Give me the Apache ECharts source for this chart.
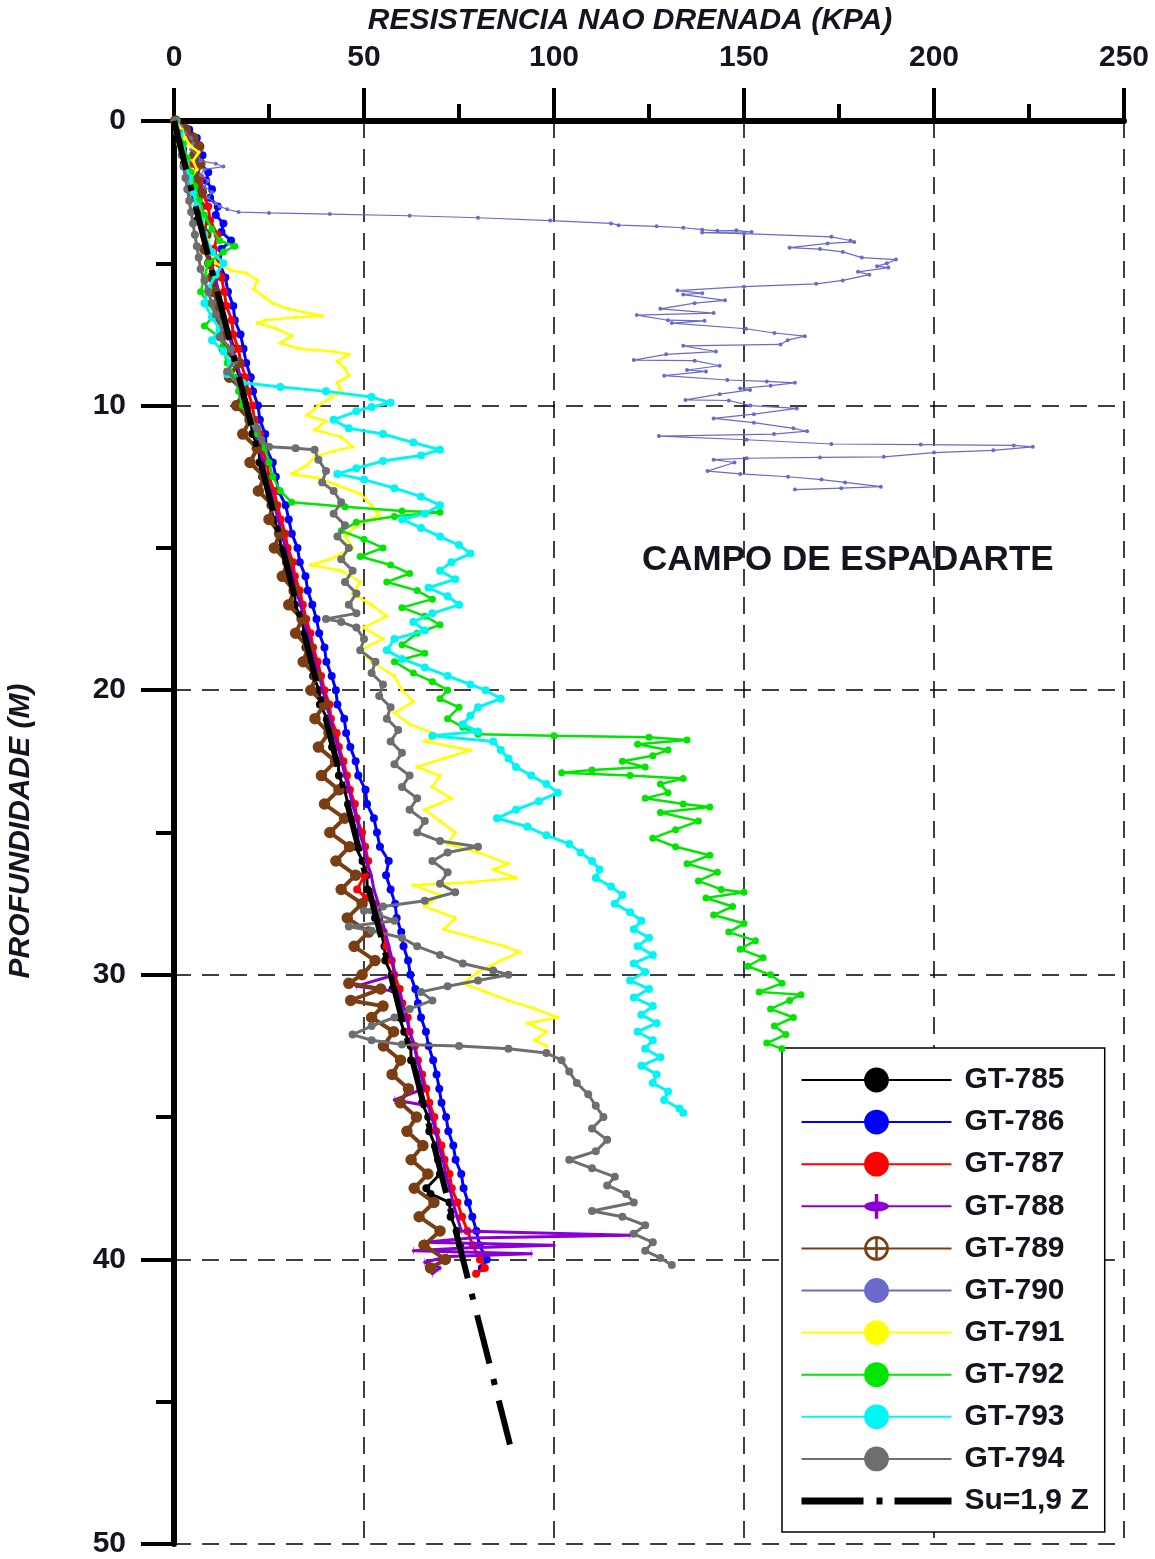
<!DOCTYPE html>
<html>
<head>
<meta charset="utf-8">
<script src="https://cdn.jsdelivr.net/npm/echarts@6/dist/echarts.min.js"></script>
<style>
html,body{margin:0;padding:0;background:#fff;}
#chart{width:1155px;height:1559px;}
</style>
</head>
<body>
<div id="chart"></div>
<script>
// ---------- DATA: [Su (kPa), depth (m)] ----------
const seriesNames = ['GT-785','GT-786','GT-787','GT-788','GT-789','GT-790','GT-791','GT-792','GT-793','GT-794'];
const lineName = 'Su=1,9 Z';
const xTicks = [0, 50, 100, 150, 200, 250];
const yTicks = [0, 10, 20, 30, 40, 50];

const gt785 = [[0.3,0],[1.2,0.5],[2.4,1],[2.6,1.5],[4.1,2],[4.4,2.5],[6.2,3],[6.0,3.5],[7.9,4],[8.8,4.5],[9.1,5],[10.8,5.5],[11.0,6],[12.9,6.5],[13.0,7],[14.6,7.5],[15.8,8],[15.6,8.5],[17.4,9],[18.4,9.5],[18.6,10],[20.3,10.5],[20.6,11],[22.4,11.5],[22.5,12],[23.2,12.5],[25.1,13],[25.4,13.5],[26.2,14],[27.9,14.5],[28.0,15],[29.8,15.5],[30.1,16],[31.9,16.5],[31.8,17],[33.5,17.5],[34.4,18],[34.6,18.5],[36.3,19],[36.6,19.5],[38.2,20],[38.4,20.5],[40.3,21],[40.5,21.5],[41.6,22],[43.2,22.5],[43.4,23],[44.9,23.5],[45.8,24],[46.2,24.5],[47.9,25],[47.8,25.5],[49.6,26],[50.7,26.5],[50.9,27],[52.6,27.5],[52.9,28],[54.5,28.5],[55.4,29],[55.6,29.5],[57.3,30],[57.5,30.5],[59.4,31],[59.3,31.5],[60.6,32],[62.3,32.5],[62.4,33],[64.1,33.5],[64.9,34],[65.3,34.5],[66.9,35],[67.2,35.5],[68.7,36],[69.5,36.5],[70.0,37],[66.4,37.5],[67.5,37.7],[72.5,38],[72.8,38.5],[74.4,39],[75.3,39.5]];

const gt786 = [[0.5,0],[4,0.3],[6,0.6],[5.5,0.9],[7.5,1.2],[7,1.5],[9,1.8],[8.5,2.1],[10,2.4],[9.5,2.7],[11.5,3.0],[11,3.3],[13,3.6],[12.5,3.9],[15,4.2],[12.5,4.5],[12,5],[13.5,5.5],[14.2,6],[15.6,6.5],[16,7],[17.5,7.5],[18.3,8],[19,8.5],[20.2,9],[20.8,9.5],[22.1,10],[22.6,10.5],[24,11],[24.3,11.5],[26,12],[26.8,12.5],[27.5,13],[29.4,13.5],[30.2,14],[31,14.5],[32.5,15],[33.1,15.5],[34.6,16],[35.2,16.5],[36.4,17],[37.5,17.5],[38.2,18],[39.6,18.5],[40.1,19],[41.5,19.5],[42.6,20],[43,20.5],[44.8,21],[45.3,21.5],[46.4,22],[47.8,22.5],[48.5,23],[50.4,23.5],[50.8,24],[52.6,24.5],[53.4,25],[54.2,25.5],[56.5,26],[55.8,26.5],[57,27],[58.2,27.5],[58.6,28],[59.8,28.5],[60.4,29],[61.6,29.5],[62.2,30],[63.5,30.5],[64.2,31],[65,31.5],[66.3,32],[67,32.5],[68.2,33],[69.1,33.5],[69.8,34],[70.4,34.5],[71.6,35],[72.2,35.5],[73.5,36],[74.1,36.5],[75.6,37],[76.2,37.5],[77.4,38],[78.5,38.5],[79.6,39],[80.4,39.5],[82.3,40],[81,40.3]];

const gt787 = [[0.5,0],[3.5,0.5],[5.5,1],[5,1.5],[7,2],[7.5,2.5],[9,3],[9.5,3.5],[11.5,4],[10.5,4.5],[11.8,5],[12.5,5.5],[13.2,6],[13.8,6.5],[15.2,7],[15.6,7.5],[16.9,8],[17.6,8.5],[18.8,9],[19.5,9.5],[20.6,10],[21.2,10.5],[22.6,11],[23.1,11.5],[24.5,12],[25,12.5],[26.3,13],[27.2,13.5],[28.1,14],[29.3,14.5],[29.9,15],[31.3,15.5],[31.8,16],[33.1,16.5],[33.9,17],[34.8,17.5],[35.9,18],[36.6,18.5],[37.8,19],[38.7,19.5],[39.6,20],[40.9,20.5],[41.3,21],[42.8,21.5],[43.4,22],[44.6,22.5],[45.5,23],[46.3,23.5],[47.6,24],[48.1,24.5],[49.5,25],[50.3,25.5],[51.1,26],[50.2,26.5],[48.2,27],[50.5,27.3],[52.6,27.5],[54,28],[55.2,28.5],[55.9,29],[57.3,29.5],[58,30],[59.4,30.5],[60.1,31],[61.5,31.5],[62,32],[63.4,32.5],[64.2,33],[65.3,33.5],[66.4,34],[67.2,34.5],[68.5,35],[69,35.5],[70.4,36],[71.2,36.5],[72.5,37],[73.1,37.5],[74.6,38],[75.8,38.5],[77.2,39],[78.6,39.5],[80.5,40],[81.8,40.3],[79.5,40.5]];

const gt788 = [[0.4,0],[2.5,1],[4.5,2],[6.2,3],[8,4],[9.8,5],[11.8,6],[13.6,7],[15.4,8],[16.5,8.5],[17.5,9],[18.2,9.5],[19.6,10],[20.3,10.5],[21.5,11],[22.4,11.5],[23.6,12],[24.2,12.5],[25.5,13],[26.4,13.5],[27.4,14],[28.4,14.5],[29.3,15],[30.4,15.5],[31.3,16],[32.1,16.5],[33.4,17],[34,17.5],[35.3,18],[36.2,18.5],[37.1,19],[38.2,19.5],[39.2,20],[40,20.5],[41.2,21],[41.9,21.5],[43.2,22],[44.1,22.5],[45,23],[46.1,23.5],[46.9,24],[48.1,24.5],[48.8,25],[50,25.5],[50.7,26],[51.9,26.5],[52.6,27],[53.8,27.5],[54.5,28],[55.6,28.5],[56.5,29],[57.5,29.5],[58.2,30],[48,30.4],[59.3,30.6],[60.1,31],[61.2,31.5],[62,32],[63.2,32.5],[64,33],[65.1,33.5],[65.8,34],[58,34.4],[66.9,34.6],[67.8,35],[68.9,35.5],[69.6,36],[70.8,36.5],[71.5,37],[72.6,37.5],[73.4,38],[74.5,38.5],[75.6,39],[120,39.15],[78,39.25],[66,39.4],[100,39.5],[76,39.6],[63,39.7],[94,39.8],[72,39.9],[66,40.1],[70,40.3],[68,40.5]];

const gt789 = [[0.4,0],[3,0.3],[5,0.6],[6.5,0.9],[5.5,1.2],[6.8,1.5],[6,2],[7.2,2.5],[6.8,3],[8,3.5],[8.4,4],[8.1,4.5],[9.4,5],[10.1,5.5],[10.6,6],[11.6,6.5],[12.3,7],[12.9,7.5],[13.2,8],[16.8,8.5],[14.6,9],[18.3,9.5],[16.5,10],[20.0,10.5],[18.1,11],[21.9,11.5],[20.0,12],[23.8,12.5],[22.2,13],[26.0,13.5],[25.0,14],[27.8,14.5],[26.4,15],[29.9,15.5],[28.5,16],[31.6,16.5],[30.2,17],[33.7,17.5],[32.0,18],[35.3,18.5],[34.0,19],[37.4,19.5],[36.0,20],[39.6,20.5],[37.1,21],[40.8,21.5],[38.0,22],[42.5,22.5],[38.8,23],[43.4,23.5],[39.6,24],[44.9,24.5],[41.0,25],[46.2,25.5],[42.6,26],[47.8,26.5],[44.0,27],[49.5,27.5],[45.6,28],[51.2,28.5],[47.4,29],[52.9,29.5],[49.5,30],[46.0,30.3],[54.4,30.5],[46.5,30.9],[55.0,31.1],[52.0,31.5],[57.8,32],[55.1,32.5],[59.6,33],[57.4,33.5],[61.7,34],[59.6,34.5],[63.8,35],[61.3,35.5],[65.5,36],[62.4,36.5],[66.8,37],[63.2,37.5],[68.4,38],[64.5,38.5],[70.0,39],[65.8,39.5],[71.4,40],[67.5,40.3]];

const gt790 = [[0.5,0],[2,0.2],[3,0.4],[4.5,0.6],[5,0.8],[4.5,1.0],[6,1.2],[7,1.4],[11,1.5],[13,1.6],[8,1.7],[7,1.9],[9,2.1],[8,2.3],[10,2.5],[9,2.7],[11,2.9],[12,3.0],[14,3.1],[17,3.2],[25,3.23],[41,3.27],[62,3.33],[80,3.4],[99,3.5],[115,3.6],[117,3.66],[127,3.7],[134,3.75],[139,3.82],[143,3.86],[148,3.84],[152,3.9],[139,3.92],[150,3.96],[173,4.07],[178,4.2],[179,4.25],[172,4.3],[162,4.45],[170,4.5],[176,4.6],[181,4.8],[190,4.87],[187.6,5.0],[185,5.1],[188,5.15],[180,5.3],[183,5.4],[176,5.6],[169,5.72],[150,5.82],[132.5,5.96],[139,6.05],[134,6.1],[145,6.3],[137,6.4],[128,6.6],[142,6.75],[121.8,6.82],[130,7.0],[139.6,7.02],[131,7.1],[150.5,7.3],[158,7.45],[166,7.56],[161.5,7.7],[159.6,7.85],[134,7.9],[142.6,8.1],[129.5,8.2],[121,8.4],[137,8.42],[143.6,8.6],[135,8.75],[140,8.8],[129,8.95],[145.6,9.1],[156,9.15],[163.4,9.2],[157,9.3],[149,9.4],[151.6,9.45],[143.6,9.6],[134.6,9.8],[146,9.82],[151.7,10.0],[163.9,10.1],[152.6,10.3],[142,10.45],[152.6,10.6],[163,10.8],[166.6,10.9],[157.9,11.0],[127.6,11.07],[150.7,11.2],[173,11.35],[196.5,11.37],[221,11.4],[226,11.45],[215.6,11.57],[200,11.65],[186.8,11.8],[170,11.82],[150.7,11.85],[142,11.9],[147.5,12.0],[140.4,12.3],[149,12.4],[161.6,12.5],[170.4,12.6],[176.6,12.7],[186,12.85],[175.6,12.9],[163.4,12.95]];

const gt791 = [[0.5,0],[2,0.3],[3,0.6],[4.5,0.9],[6.5,1.1],[5,1.4],[6,1.7],[4.5,2.0],[5.5,2.3],[6,2.7],[7,3.0],[8,3.4],[7.5,3.8],[9,4.2],[10,4.6],[11,5.0],[15,5.25],[19,5.35],[22,5.6],[21,5.9],[24,6.2],[26,6.4],[30,6.6],[39,6.85],[32,6.9],[24,7.0],[22,7.1],[27,7.3],[31,7.55],[28,7.8],[33,8.0],[42,8.1],[46,8.2],[43,8.45],[45,8.7],[46,8.95],[43,9.2],[44,9.5],[41,9.75],[38,10.0],[35,10.35],[40,10.55],[37,10.85],[44,11.1],[47,11.45],[42,11.6],[37,11.8],[35,12.1],[31,12.4],[38,12.55],[43,12.8],[49,13.1],[52,13.5],[54,13.85],[48,14.2],[45,14.6],[47,15.0],[41,15.4],[36,15.6],[44,15.8],[49,16.2],[47,16.6],[52,17.0],[56,17.4],[50,17.8],[55,18.2],[49,18.6],[52,19.0],[58,19.5],[60,20.0],[63,20.4],[58,20.8],[62,21.2],[70,21.6],[66,21.8],[78,22.1],[71,22.4],[64,22.7],[70,23.0],[68,23.4],[73,23.8],[66,24.2],[70,24.6],[74,25.0],[72,25.4],[80,25.7],[88,26.1],[84,26.3],[90,26.6],[78,26.75],[63,26.85],[70,27.2],[66,27.6],[74,28.0],[71,28.4],[79,28.7],[87,29.0],[91,29.2],[86,29.5],[80,29.9],[76,30.3],[82,30.6],[88,30.9],[95,31.2],[101,31.5],[93,31.7],[98,32.0],[95,32.3],[98,32.5]];

const gt792 = [[0.5,0],[1.5,0.4],[2.5,0.8],[3.5,1.3],[4.5,1.8],[5.5,2.3],[6.5,2.8],[8,3.3],[10,3.8],[12,4.2],[16,4.4],[13,4.6],[9,5.0],[8,5.5],[7,6.0],[9,6.4],[11,6.8],[8,7.2],[12,7.6],[13,8.0],[14,8.5],[16,9.0],[17,9.5],[18,10.0],[20,10.5],[22,11.0],[24,11.5],[25,12.0],[26,12.5],[28,13.0],[31,13.4],[45,13.55],[60,13.7],[70,13.75],[58,13.9],[48,14.1],[44,14.4],[50,14.7],[55,15.0],[49,15.3],[57,15.6],[62,15.9],[56,16.2],[64,16.5],[68,16.8],[60,17.1],[66,17.4],[70,17.7],[64,18.0],[60,18.4],[66,18.7],[58,19.0],[63,19.4],[68,19.7],[72,20.0],[70,20.3],[75,20.6],[72,21.0],[76,21.3],[80,21.55],[100,21.6],[125,21.65],[135,21.75],[122,21.9],[130,22.1],[126,22.3],[118,22.5],[124,22.7],[110,22.8],[102,22.9],[120,23.0],[134,23.1],[128,23.3],[130,23.6],[124,23.8],[134,24.0],[141,24.1],[128,24.3],[138,24.6],[132,24.9],[126,25.2],[132,25.5],[141,25.8],[135,26.1],[143,26.4],[138,26.7],[144,27.0],[150,27.1],[140,27.3],[147,27.6],[142,27.9],[150,28.2],[146,28.5],[153,28.8],[149,29.1],[155,29.4],[151,29.7],[157,30.0],[160,30.3],[154,30.6],[165,30.7],[162,30.9],[157,31.2],[163,31.5],[158,31.8],[161,32.1],[156,32.4],[160,32.6]];

const gt793 = [[0.5,0],[1.5,0.5],[2,1.0],[3,1.5],[4,2.0],[5,2.5],[6,3.0],[7,3.5],[8,4.0],[10,4.6],[13,5.0],[11,5.4],[9,5.9],[8,6.4],[10,6.9],[12,7.3],[10,7.7],[13,8.1],[15,8.5],[14,8.9],[18,9.2],[28,9.35],[40,9.5],[52,9.7],[57,9.9],[52,10.05],[48,10.2],[42,10.5],[46,10.8],[55,11.0],[63,11.3],[70,11.55],[65,11.75],[55,11.95],[48,12.2],[43,12.4],[50,12.6],[58,12.9],[65,13.2],[70,13.5],[66,13.8],[60,14.0],[65,14.3],[70,14.6],[75,14.9],[78,15.2],[73,15.5],[70,15.8],[74,16.1],[67,16.4],[72,16.7],[75,17.0],[68,17.3],[63,17.6],[66,17.9],[58,18.2],[56,18.6],[60,18.9],[66,19.2],[72,19.5],[78,19.8],[82,20.0],[86,20.3],[80,20.6],[78,20.9],[76,21.2],[80,21.45],[68,21.6],[84,21.8],[86,22.1],[88,22.4],[90,22.7],[94,23.0],[98,23.3],[101,23.6],[96,23.9],[90,24.2],[85,24.5],[93,24.8],[98,25.1],[104,25.4],[107,25.7],[110,26.0],[112,26.3],[111,26.6],[115,26.9],[118,27.2],[116,27.5],[120,27.8],[123,28.1],[121,28.4],[125,28.7],[122,29.0],[126,29.3],[121,29.6],[124,29.9],[120,30.2],[125,30.5],[121,30.8],[126,31.1],[123,31.4],[127,31.7],[122,32.0],[126,32.3],[124,32.6],[128,32.9],[123,33.2],[127,33.5],[126,33.8],[130,34.1],[129,34.4],[133,34.7],[134,34.85]];

const gt794 = [[0.3,0],[0.8,0.4],[1.5,0.8],[2,1.2],[2.5,1.6],[3,2.0],[3.5,2.4],[4,2.8],[4.5,3.2],[5,3.6],[5.5,4.0],[6,4.4],[6.5,4.8],[7,5.2],[8,5.6],[9,6.0],[10,6.4],[11,6.8],[13,7.2],[12,7.6],[15,8.0],[16,8.4],[14,8.8],[17,9.2],[18,9.6],[19,10.0],[20,10.4],[22,10.8],[23,11.2],[25,11.45],[32,11.5],[37,11.55],[38,11.9],[40,12.3],[39,12.7],[42,13.0],[44,13.4],[42,13.8],[45,14.2],[43,14.6],[46,15.0],[44,15.4],[47,15.8],[45,16.2],[48,16.6],[46,17.0],[48,17.3],[40,17.5],[44,17.6],[48,17.8],[50,18.2],[49,18.6],[53,19.0],[52,19.4],[55,19.8],[54,20.2],[57,20.6],[56,21.0],[59,21.4],[57,21.8],[60,22.2],[58,22.6],[62,23.0],[60,23.4],[64,23.8],[62,24.2],[66,24.6],[64,25.0],[70,25.3],[80,25.5],[72,25.7],[68,26.0],[72,26.4],[70,26.8],[74,27.1],[66,27.4],[55,27.6],[50,27.75],[54,27.9],[58,28.1],[46,28.3],[52,28.45],[60,28.7],[64,29.0],[70,29.3],[76,29.6],[84,29.85],[88,30.0],[80,30.2],[72,30.4],[65,30.6],[68,30.9],[62,31.2],[58,31.5],[52,31.8],[47,32.1],[52,32.3],[60,32.45],[75,32.5],[88,32.6],[98,32.75],[102,33.0],[104,33.4],[106,33.8],[109,34.2],[111,34.6],[113,35.0],[110,35.4],[114,35.8],[111,36.2],[104,36.5],[110,36.8],[116,37.1],[114,37.4],[119,37.7],[121,38.0],[110,38.3],[118,38.5],[124,38.8],[121,39.1],[126,39.4],[124,39.7],[128,39.95],[131,40.2]];

const suLine = [[0,0],[88.4,46.5]];

// ---------- STYLE ----------
const FONT = "'Liberation Sans', Arial, sans-serif";
const colors = ['#000000','#0000ff','#ff0000','#8a00d4','#7a3e12','#6a6acd','#ffff00','#00e600','#00f5f5','#6e6e6e'];
const datasets = [gt785, gt786, gt787, gt788, gt789, gt790, gt791, gt792, gt793, gt794];
const crossCircle = 'path://M0,-10 A10,10 0 1,1 0,10 A10,10 0 1,1 0,-10 Z M0,-7.8 A7.8,7.8 0 1,0 0,7.8 A7.8,7.8 0 1,0 0,-7.8 Z M-1,-7.8 L1,-7.8 L1,7.8 L-1,7.8 Z M-7.8,-1 L7.8,-1 L7.8,1 L-7.8,1 Z';
const stemDot = 'path://M0,-5 A5,5 0 1,1 0,5 A5,5 0 1,1 0,-5 Z M-0.7,-12 L0.7,-12 L0.7,12 L-0.7,12 Z';
const symbols = ['circle','circle','circle',stemDot,crossCircle,'circle','circle','circle','circle','circle'];
const symSizes = [8, 8, 8, 8, 9, 4, 4, 7, 8, 8];
const lineWidths = [3, 3, 3, 3, 4, 1.2, 2.5, 2.5, 3, 3];
const borderWidths = [0, 0, 0, 0, 2.5, 0, 0, 0, 0, 0];

const series = seriesNames.map((n, i) => ({
  name: n,
  type: 'line',
  data: datasets[i],
  symbol: symbols[i],
  symbolKeepAspect: true,
  symbolSize: symSizes[i],
  showSymbol: true,
  showAllSymbol: true,
  color: colors[i],
  lineStyle: { width: lineWidths[i], color: colors[i] },
  itemStyle: { color: colors[i], borderColor: colors[i], borderWidth: borderWidths[i] },
  emphasis: { disabled: true },
  silent: true,
  z: 2 + i
}));
series.push({
  name: lineName,
  type: 'line',
  data: suLine,
  symbol: 'circle',
  showSymbol: false,
  color: '#000',
  lineStyle: { width: 6, color: '#000', type: [50, 16, 6, 16] },
  itemStyle: { color: '#000' },
  emphasis: { disabled: true },
  silent: true,
  z: 20
});

const chart = echarts.init(document.getElementById('chart'), null, { renderer: 'canvas' });
chart.setOption({
  animation: false,
  backgroundColor: '#ffffff',
  grid: { left: 174, right: 31, top: 121, bottom: 12, containLabel: false },
  xAxis: {
    type: 'value', position: 'top', min: 0, max: 250, interval: 50,
    axisLine: { show: true, onZero: false, lineStyle: { color: '#000', width: 6 } },
    axisTick: { show: true, inside: false, length: 33, lineStyle: { color: '#000', width: 4 } },
    minorTick: { show: true, splitNumber: 2, length: 17, lineStyle: { color: '#000', width: 4 } },
    axisLabel: { margin: 48, fontSize: 30, fontWeight: 'bold', color: '#151520', fontFamily: FONT,
      formatter: v => xTicks.indexOf(v) >= 0 ? String(v) : '' },
    splitLine: { show: true, lineStyle: { color: '#000', width: 1.5, type: [17, 11] } }
  },
  yAxis: {
    type: 'value', inverse: true, min: 0, max: 50, interval: 10,
    axisLine: { show: true, onZero: false, lineStyle: { color: '#000', width: 6 } },
    axisTick: { show: true, inside: false, length: 33, lineStyle: { color: '#000', width: 4 } },
    minorTick: { show: true, splitNumber: 2, length: 18, lineStyle: { color: '#000', width: 4 } },
    axisLabel: { margin: 48, fontSize: 30, fontWeight: 'bold', color: '#151520', fontFamily: FONT,
      formatter: v => yTicks.indexOf(v) >= 0 ? String(v) : '' },
    splitLine: { show: true, lineStyle: { color: '#000', width: 1.5, type: [17, 11] } }
  },
  legend: {
    orient: 'vertical', left: 782, top: 1048,
    padding: [17, 16, 16, 16],
    itemWidth: 150, itemHeight: 31, itemGap: 12.1,
    backgroundColor: '#ffffff', borderColor: '#000', borderWidth: 1.5,
    selectedMode: false,
    itemStyle: { borderWidth: 0 },
    textStyle: { fontSize: 30, fontWeight: 'bold', fontFamily: FONT, color: '#151520', padding: [0, 0, 0, 8] },
    data: seriesNames.map(n => ({ name: n })).concat([{
      name: lineName,
      itemStyle: { opacity: 0 },
      lineStyle: { type: [62, 13, 6, 12, 60, 10], width: 7, color: '#000' }
    }])
  },
  graphic: [
    { type: 'text', x: 630, y: 21, silent: true,
      style: { text: 'RESISTENCIA NAO DRENADA (KPA)', font: 'italic bold 30px ' + FONT, fill: '#151520', textAlign: 'center', textVerticalAlign: 'middle' } },
    { type: 'text', x: 21, y: 831, rotation: Math.PI / 2, silent: true,
      style: { text: 'PROFUNDIDADE (M)', font: 'italic bold 30px ' + FONT, fill: '#151520', textAlign: 'center', textVerticalAlign: 'middle' } },
    { type: 'text', x: 642, y: 560, silent: true,
      style: { text: 'CAMPO DE ESPADARTE', font: 'bold 35px ' + FONT, fill: '#151520', textAlign: 'left', textVerticalAlign: 'middle' } }
  ],
  series: series
});
</script>
</body>
</html>
